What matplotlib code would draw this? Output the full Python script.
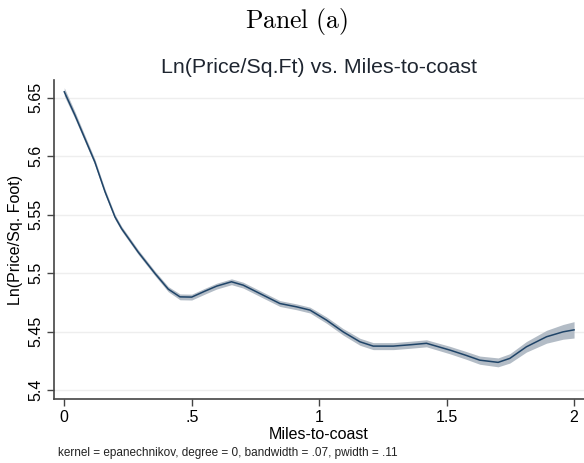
import numpy as np
import matplotlib.pyplot as plt

# values (lpoly smooth with CI band)
miles = [0.0, 0.042, 0.081, 0.12, 0.16, 0.199, 0.225, 0.29, 0.356, 0.408, 0.454, 0.5,
         0.552, 0.598, 0.656, 0.702, 0.767, 0.846, 0.911, 0.964, 1.029, 1.094, 1.16,
         1.212, 1.291, 1.36, 1.421, 1.513, 1.575, 1.63, 1.702, 1.748, 1.813, 1.892,
         1.957, 2.0]
ln_price = [5.655, 5.635, 5.615, 5.595, 5.5695, 5.548, 5.538, 5.518, 5.4997, 5.4863,
            5.4797, 5.4795, 5.4846, 5.4889, 5.4926, 5.4897, 5.4826, 5.474, 5.4712,
            5.4684, 5.4598, 5.4498, 5.4413, 5.4376, 5.4376, 5.4388, 5.4400, 5.4342,
            5.4298, 5.4256, 5.4237, 5.4271, 5.4370, 5.4456, 5.4498, 5.4515]
ci_half = [0.0035, 0.003, 0.0027, 0.0025, 0.0023, 0.0021, 0.002, 0.002, 0.002, 0.0022,
           0.0025, 0.0025, 0.0025, 0.0025, 0.0025, 0.0025, 0.0025, 0.0025, 0.0025,
           0.0025, 0.0027, 0.0028, 0.003, 0.003, 0.003, 0.003, 0.003, 0.0032, 0.0033,
           0.0035, 0.0038, 0.004, 0.0045, 0.0055, 0.0063, 0.007]

x_ticks = [0, 0.5, 1, 1.5, 2]
x_labels = ["0", ".5", "1", "1.5", "2"]
y_ticks = [5.4, 5.45, 5.5, 5.55, 5.6, 5.65]
y_labels = ["5.4", "5.45", "5.5", "5.55", "5.6", "5.65"]

plt.rcParams["font.family"] = ["Liberation Sans", "DejaVu Sans"]
plt.rcParams["mathtext.fontset"] = "cm"

fig = plt.figure(figsize=(5.84, 4.63), dpi=100)
ax = fig.add_axes([0.093, 0.138, 0.907, 0.689])

x = np.array(miles)
y = np.array(ln_price)
h = np.array(ci_half)
ax.fill_between(x, y - h, y + h, color="#b3bcc6", lw=0, zorder=2)
ax.plot(x, y, color="#1f4468", lw=1.1, zorder=3, solid_joinstyle="round")

ax.set_xlim(-0.039, 2.039)
ax.set_ylim(5.3923, 5.665)
ax.set_xticks(x_ticks, x_labels)
ax.set_yticks(y_ticks, y_labels)
ax.grid(axis="y", color="#eeeeee", lw=1)
ax.set_axisbelow(True)
for s in ["top", "right"]:
    ax.spines[s].set_visible(False)
for s in ["left", "bottom"]:
    ax.spines[s].set_color("#444444")
    ax.spines[s].set_linewidth(1.2)
ax.tick_params(length=5, width=1, color="#444444", labelsize=11.5, pad=3)
plt.setp(ax.get_yticklabels(), rotation=90, va="center")

ax.set_xlabel("Miles-to-coast", fontsize=11.5, labelpad=1)
ax.set_ylabel("Ln(Price/Sq. Foot)", fontsize=11.5, labelpad=4)
ax.set_title("Ln(Price/Sq.Ft) vs. Miles-to-coast", fontsize=15.4, color="#1e2530", pad=5)

fig.text(0.508, 0.953, r"$\mathrm{Panel\ (a)}$", ha="center", va="center", fontsize=18.5)
fig.text(0.1, 0.022, "kernel = epanechnikov, degree = 0, bandwidth = .07, pwidth = .11",
         ha="left", va="center", fontsize=8.5, color="#222222")

fig.savefig("out.png", dpi=100)
